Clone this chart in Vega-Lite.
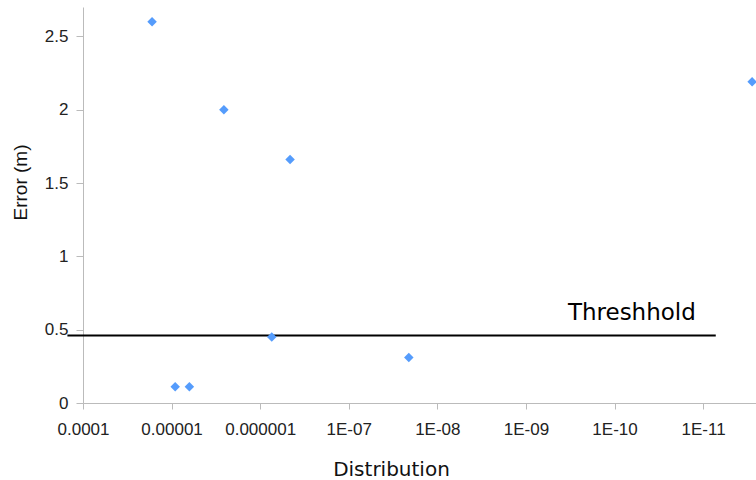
{
  "$schema": "https://vega.github.io/schema/vega-lite/v6.json",
  "width": 673,
  "height": 396,
  "autosize": {"type": "none"},
  "padding": {"left": 83, "top": 7, "right": 0, "bottom": 77},
  "background": "white",
  "config": {"view": {"stroke": null}},
  "datasets": {
    "points": [
      {"distribution": 1.66e-5, "error": 2.6},
      {"distribution": 2.57e-6, "error": 2.0},
      {"distribution": 4.6e-7, "error": 1.66},
      {"distribution": 9.1e-6, "error": 0.11},
      {"distribution": 6.3e-6, "error": 0.11},
      {"distribution": 7.4e-7, "error": 0.45},
      {"distribution": 2.1e-8, "error": 0.31},
      {"distribution": 2.8e-12, "error": 2.19}
    ],
    "threshold": [
      {"x1": 1.5e-4, "x2": 7.2e-12, "y": 0.46, "label": "Threshhold", "lx": 3.36e-10, "ly": 0.568}
    ]
  },
  "layer": [
    {
      "data": {"name": "threshold"},
      "mark": {"type": "rule", "color": "black", "strokeWidth": 2},
      "encoding": {
        "x": {"field": "x1", "type": "quantitative"},
        "x2": {"field": "x2"},
        "y": {"field": "y", "type": "quantitative"}
      }
    },
    {
      "data": {"name": "threshold"},
      "mark": {"type": "text", "align": "left", "baseline": "alphabetic", "font": "DejaVu Sans", "fontSize": 23, "color": "black"},
      "encoding": {
        "x": {"field": "lx", "type": "quantitative"},
        "y": {"field": "ly", "type": "quantitative"},
        "text": {"field": "label"}
      }
    },
    {
      "data": {"name": "points"},
      "mark": {"type": "point", "shape": "diamond", "filled": true, "size": 90, "color": "#559cfc", "opacity": 1},
      "encoding": {
        "x": {
          "field": "distribution",
          "type": "quantitative",
          "scale": {"type": "log", "domain": [2.53e-12, 0.0001], "reverse": true, "nice": false, "zero": false},
          "axis": {
            "title": "Distribution",
            "values": [0.0001, 0.00001, 0.000001, 1e-7, 1e-8, 1e-9, 1e-10, 1e-11],
            "labelExpr": "round(log(datum.value)/LN10) == -4 ? '0.0001' : round(log(datum.value)/LN10) == -5 ? '0.00001' : round(log(datum.value)/LN10) == -6 ? '0.000001' : '1E-' + (round(log(datum.value)/LN10) > -10 ? '0' : '') + (-round(log(datum.value)/LN10))",
            "grid": false,
            "domainColor": "#bbbbbb",
            "tickColor": "#bbbbbb",
            "tickSize": 6,
            "labelPadding": 12,
            "labelFont": "Liberation Sans",
            "labelFontSize": 17,
            "labelColor": "#222222",
            "labelFlush": false,
            "labelOverlap": false,
            "titleFont": "DejaVu Sans",
            "titleFontSize": 20,
            "titleFontWeight": "normal",
            "titleColor": "#111111",
            "titleX": 308,
            "titleY": 72,
            "titleBaseline": "alphabetic",
            "titleAlign": "center"
          }
        },
        "y": {
          "field": "error",
          "type": "quantitative",
          "scale": {"domain": [0, 2.7], "nice": false, "zero": true},
          "axis": {
            "title": "Error (m)",
            "values": [0, 0.5, 1, 1.5, 2, 2.5],
            "format": "~g",
            "grid": false,
            "domainColor": "#bbbbbb",
            "tickColor": "#bbbbbb",
            "tickSize": 7,
            "labelPadding": 8,
            "labelFont": "Liberation Sans",
            "labelFontSize": 17,
            "labelColor": "#222222",
            "labelFlush": false,
            "labelOverlap": false,
            "titleFont": "Liberation Sans",
            "titleFontSize": 19,
            "titleFontWeight": "normal",
            "titleColor": "#111111",
            "titleX": -63,
            "titleY": 175,
            "titleAngle": -90,
            "titleBaseline": "middle",
            "titleAlign": "center"
          }
        }
      }
    }
  ]
}
